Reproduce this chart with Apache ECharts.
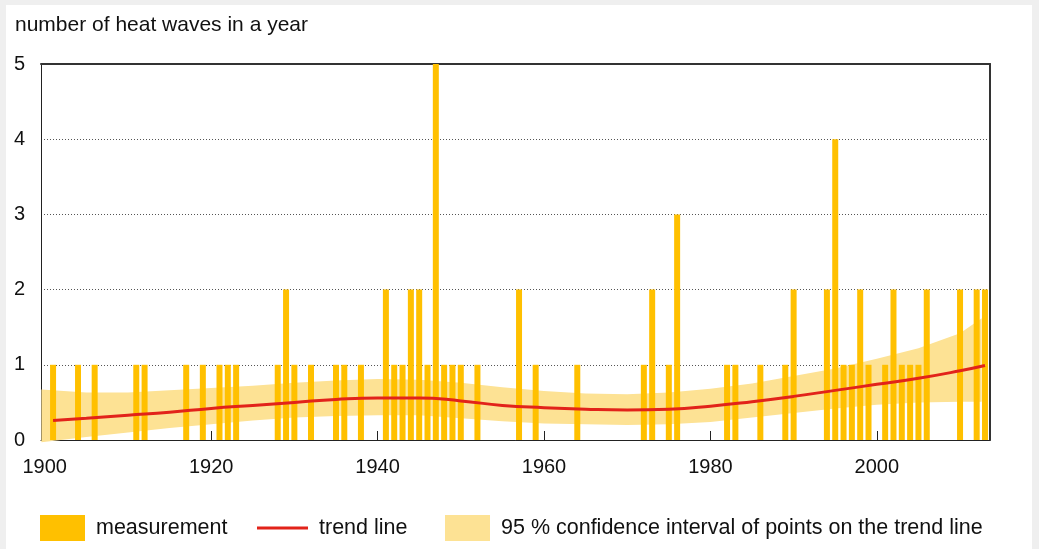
<!DOCTYPE html>
<html>
<head>
<meta charset="utf-8">
<script src="https://cdn.jsdelivr.net/npm/echarts@6/dist/echarts.min.js"></script>
<style>
html, body { margin: 0; padding: 0; background: #efefef; }
#heat { width: 1039px; height: 549px; }
</style>
</head>
<body>
<div id="heat"></div>
<script>
// measurement: years with heat waves and how many
var years = [1901, 1904, 1906, 1911, 1912, 1917, 1919, 1921, 1922, 1923,
    1928, 1929, 1930, 1932, 1935, 1936, 1938, 1941, 1942, 1943,
    1944, 1945, 1946, 1947, 1948, 1949, 1950, 1952, 1957, 1959,
    1964, 1972, 1973, 1975, 1976, 1982, 1983, 1986, 1989, 1990,
    1994, 1995, 1996, 1997, 1998, 1999, 2001, 2002, 2003, 2004,
    2005, 2006, 2010, 2012, 2013];
var counts = [1, 1, 1, 1, 1, 1, 1, 1, 1, 1,
    1, 2, 1, 1, 1, 1, 1, 2, 1, 1,
    2, 2, 1, 5, 1, 1, 1, 1, 2, 1,
    1, 1, 2, 1, 3, 1, 1, 1, 1, 2,
    2, 4, 1, 1, 2, 1, 1, 2, 1, 1,
    1, 2, 2, 2, 2];

// trend line
var trendYears = [1901, 1905, 1910, 1915, 1920, 1925, 1930, 1935, 1940, 1945, 1950, 1955,
    1960, 1965, 1970, 1975, 1980, 1985, 1990, 1995, 2000, 2005, 2010, 2013];
var trendValues = [0.26, 0.29, 0.33, 0.37, 0.42, 0.46, 0.50, 0.54, 0.56, 0.56, 0.52, 0.46,
    0.43, 0.41, 0.40, 0.41, 0.45, 0.51, 0.58, 0.66, 0.74, 0.82, 0.92, 0.99];

// 95 % band
var bandYears = [1899.6, 1905, 1910, 1915, 1920, 1925, 1930, 1935, 1940, 1945, 1950, 1955,
    1960, 1965, 1970, 1975, 1980, 1985, 1990, 1995, 2000, 2005, 2010, 2012.6];
var bandUpper = [0.67, 0.63, 0.63, 0.66, 0.69, 0.72, 0.76, 0.79, 0.81, 0.80, 0.76, 0.70,
    0.65, 0.62, 0.61, 0.63, 0.68, 0.75, 0.85, 0.95, 1.08, 1.22, 1.42, 1.62];
var bandLower = [-0.03, 0.04, 0.10, 0.16, 0.21, 0.26, 0.30, 0.32, 0.33, 0.33, 0.29, 0.25,
    0.22, 0.21, 0.20, 0.21, 0.24, 0.30, 0.36, 0.42, 0.47, 0.50, 0.51, 0.51];

var xLabels = [1900, 1920, 1940, 1960, 1980, 2000];
var xTicks = [1920, 1940, 1960, 1980, 2000];

var nameBars = 'measurement';
var nameTrend = 'trend line';
var nameBand = '95 % confidence interval of points on the trend line';

var barData = [];
for (var i = 0; i < years.length; i++) {
    barData.push([years[i], counts[i]]);
}
var trendData = [];
for (var j = 0; j < trendYears.length; j++) {
    trendData.push([trendYears[j], trendValues[j]]);
}
var bandData = [];
for (var k = 0; k < bandYears.length; k++) {
    bandData.push([bandYears[k], bandLower[k], bandUpper[k]]);
}

var font = 'Liberation Sans, Arial, sans-serif';
var legendText = { fontFamily: font, fontSize: 21.5, color: '#111', padding: [0, 0, 0, 6] };
var myChart = echarts.init(document.getElementById('heat'));

var option = {
    animation: false,
    backgroundColor: 'transparent',
    graphic: [{
        type: 'rect',
        z: -10,
        silent: true,
        shape: { x: 6, y: 5, width: 1026, height: 544 },
        style: { fill: '#ffffff' }
    }],
    title: {
        text: 'number of heat waves in a year',
        left: 10,
        top: 10,
        textStyle: { fontFamily: font, fontSize: 21, fontWeight: 'normal', color: '#111' }
    },
    legend: [{
        left: 40, top: 515, padding: 0, itemWidth: 45, itemHeight: 26, selectedMode: false,
        textStyle: legendText,
        data: [{ name: nameBars, icon: 'rect' }]
    }, {
        left: 257, top: 515, padding: 0, itemWidth: 51, itemHeight: 26, selectedMode: false,
        textStyle: legendText,
        data: [{ name: nameTrend, icon: 'path://M0,0M0,11.5H51V14.5H0ZM51,26', itemStyle: { color: '#e2231a' } }]
    }, {
        left: 445, top: 515, padding: 0, itemWidth: 45, itemHeight: 26, selectedMode: false,
        textStyle: legendText,
        data: [{ name: nameBand, icon: 'rect', itemStyle: { color: '#fde294' } }]
    }],
    grid: { left: 41, right: 49, top: 64, bottom: 109 },
    xAxis: [{
        type: 'value',
        min: 1899.55,
        max: 2013.6,
        axisLine: { show: true, lineStyle: { color: '#222', width: 1 } },
        axisTick: { show: true, inside: true, length: 9, customValues: xTicks, lineStyle: { color: '#222' } },
        axisLabel: {
            customValues: xLabels, fontFamily: font, fontSize: 20, color: '#111', margin: 17,
            formatter: function (v) { return String(v); }
        },
        splitLine: { show: false }
    }, {
        type: 'value',
        position: 'top',
        min: 1899.55,
        max: 2013.6,
        axisLine: { show: true, onZero: false, lineStyle: { color: '#333', width: 2 } },
        axisTick: { show: false },
        axisLabel: { show: false },
        splitLine: { show: false }
    }],
    yAxis: [{
        type: 'value',
        min: 0,
        max: 5,
        interval: 1,
        axisLine: { show: true, lineStyle: { color: '#222', width: 1 } },
        axisTick: { show: false },
        axisLabel: { fontFamily: font, fontSize: 20, color: '#111', margin: 16 },
        splitLine: { show: true, lineStyle: { color: '#555', type: [1, 2], width: 1 } }
    }, {
        type: 'value',
        position: 'right',
        min: 0,
        max: 5,
        axisLine: { show: true, onZero: false, lineStyle: { color: '#333', width: 2 } },
        axisTick: { show: false },
        axisLabel: { show: false },
        splitLine: { show: false }
    }],
    series: [{
        name: nameBand,
        type: 'custom',
        z: 1,
        clip: false,
        silent: true,
        itemStyle: { color: '#fde294' },
        data: bandData,
        renderItem: function (params, api) {
            if (params.dataIndex !== 0) return;
            var pts = [];
            for (var a = 0; a < bandYears.length; a++) {
                pts.push(api.coord([bandYears[a], bandUpper[a]]));
            }
            for (var b = bandYears.length - 1; b >= 0; b--) {
                pts.push(api.coord([bandYears[b], bandLower[b]]));
            }
            return {
                type: 'polygon',
                shape: { points: pts },
                style: { fill: '#fde294' }
            };
        }
    }, {
        name: nameBars,
        type: 'bar',
        z: 2,
        barWidth: 6,
        itemStyle: { color: '#ffc000' },
        data: barData
    }, {
        name: nameTrend,
        type: 'line',
        z: 3,
        smooth: true,
        symbol: 'none',
        lineStyle: { color: '#e2231a', width: 3 },
        itemStyle: { color: '#e2231a' },
        data: trendData
    }]
};

if (option && typeof option === 'object') {
    myChart.setOption(option, true);
}
window.onresize = function () {
    myChart.resize();
};
</script>
</body>
</html>
